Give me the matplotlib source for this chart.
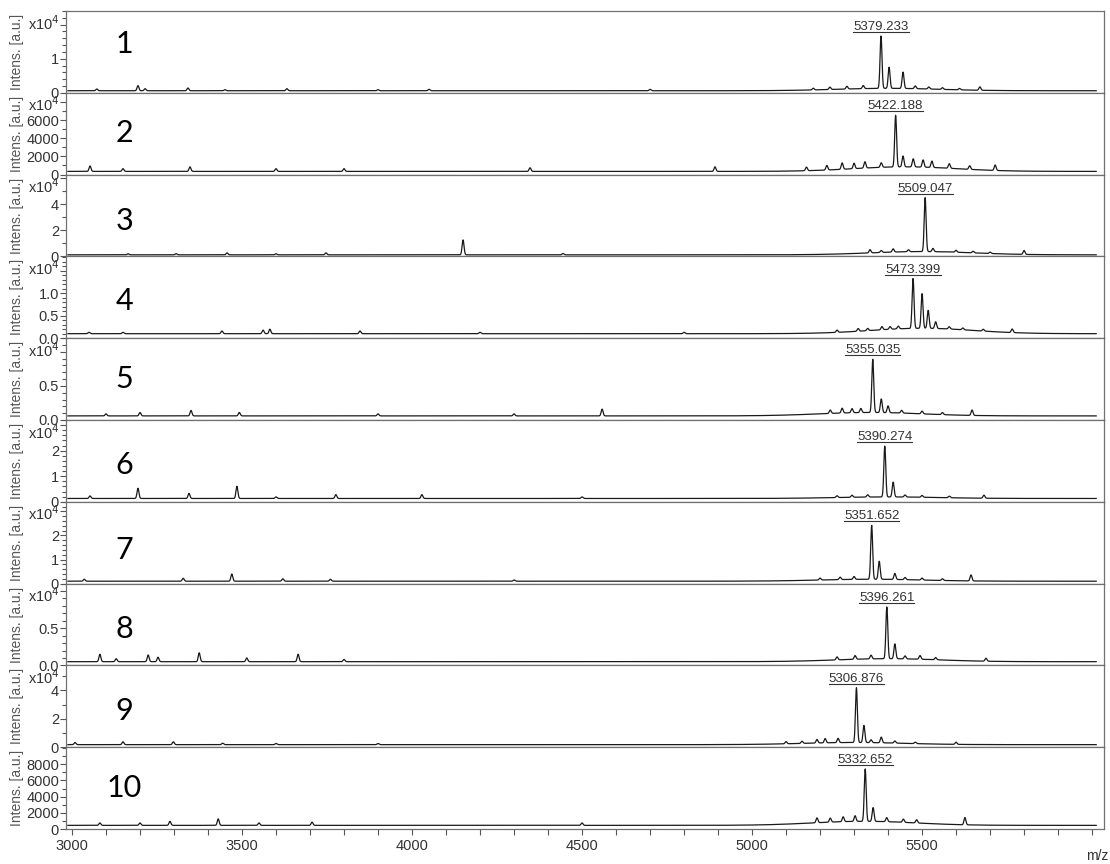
import numpy as np
import matplotlib
matplotlib.use('Agg')
import matplotlib.pyplot as plt
from matplotlib.lines import Line2D
from matplotlib.ticker import FixedLocator, MultipleLocator

plt.rcParams['font.family'] = ['Liberation Sans', 'DejaVu Sans']

# peak lists: m/z positions and intensities above baseline
p1_mz = [5379.2, 5403, 5444, 5670, 3073, 3194, 3215, 3341, 3632, 5229, 5279, 5327,
         5480, 5520, 4050, 4700, 5180, 5560, 5610, 3900, 3450]
p1_int = [15400, 6200, 4800, 1000, 500, 1500, 600, 800, 600, 700, 800, 900,
          800, 600, 400, 400, 500, 500, 400, 300, 300]
p2_mz = [5422.2, 5265, 5332, 5444, 5474, 5503, 5529, 5715, 3053, 3347, 4347, 4891,
         3600, 5160, 5220, 5300, 5380, 5580, 5640, 3150, 3800]
p2_int = [5700, 700, 700, 1200, 900, 800, 700, 600, 600, 500, 400, 500,
          300, 400, 500, 600, 500, 500, 400, 300, 300]
p3_mz = [5509.0, 4150, 5347, 5415, 5532, 5800, 5600, 3747, 4444, 3165, 3306, 3456,
         3600, 5380, 5460, 5650, 5700]
p3_int = [41500, 11500, 2500, 2500, 2500, 3000, 1500, 1500, 1000, 800, 900, 1500,
          800, 1500, 1500, 1200, 1000]
p4_mz = [5473.4, 5500, 5518, 5540, 3441, 3562, 3582, 3847, 5312, 5382, 5406, 5765,
         3150, 4200, 4800, 5250, 5340, 5430, 5580, 5620, 5680, 3050]
p4_int = [11200, 7700, 4000, 1500, 600, 800, 1000, 600, 600, 700, 600, 800,
          300, 300, 300, 500, 500, 600, 500, 400, 400, 300]
p5_mz = [5355.0, 5380, 5400, 4559, 3200, 3350, 3492, 5265, 5294, 5647, 3900, 4300,
         5230, 5320, 5440, 5500, 5560, 3100]
p5_int = [7800, 2000, 1000, 1000, 500, 800, 500, 700, 600, 800, 300, 300,
          500, 600, 400, 400, 300, 300]
p6_mz = [5390.3, 5415, 3194, 3344, 3485, 3053, 3776, 4029, 5682, 5294, 4500,
         5250, 5340, 5450, 5500, 5580, 3600]
p6_int = [20000, 5800, 4000, 2000, 4800, 1000, 1500, 1500, 1200, 800, 600,
          700, 900, 800, 700, 600, 600]
p7_mz = [5351.7, 5374, 5420, 5644, 3470, 3036, 3327, 3620, 5259, 3760, 4300,
         5200, 5300, 5450, 5500, 5560]
p7_int = [22500, 7500, 2500, 2500, 3000, 800, 1200, 1000, 1000, 800, 500,
          800, 1200, 900, 800, 700]
p8_mz = [5396.3, 5420, 3082, 3224, 3253, 3374, 3665, 3514, 5303, 5494, 5688,
         5250, 5350, 5450, 5540, 3130, 3800]
p8_int = [7000, 2000, 1000, 900, 600, 1200, 1000, 500, 500, 500, 400,
          400, 500, 400, 300, 400, 300]
p9_mz = [5306.9, 5329, 5380, 5215, 5253, 5191, 5147, 5600, 3009, 3150, 3298, 3443,
         3900, 5350, 5420, 5480, 5100, 3600]
p9_int = [38500, 12000, 4000, 3000, 3000, 2500, 1500, 1500, 1500, 2000, 2000, 1000,
          800, 2000, 1500, 1000, 1500, 800]
p10_mz = [5332.7, 5356, 5626, 3288, 3430, 3082, 3706, 5191, 5268, 4500,
          5303, 5396, 5445, 5484, 5230, 3200, 3550]
p10_int = [6500, 1700, 900, 500, 800, 300, 400, 600, 600, 300,
           700, 500, 400, 400, 500, 300, 300]

baselines = [600, 350, 1200, 1000, 600, 1300, 1000, 500, 1800, 450]
hump_centers = [5400, 5450, 5500, 5500, 5350, 5400, 5350, 5400, 5300, 5330]
hump_heights = [700, 500, 2500, 1200, 500, 600, 800, 400, 1500, 500]

peak_labels = ['5379.233', '5422.188', '5509.047', '5473.399', '5355.035',
               '5390.274', '5351.652', '5396.261', '5306.876', '5332.652']
panel_names = ['1', '2', '3', '4', '5', '6', '7', '8', '9', '10']

all_mz = [p1_mz, p2_mz, p3_mz, p4_mz, p5_mz, p6_mz, p7_mz, p8_mz, p9_mz, p10_mz]
all_int = [p1_int, p2_int, p3_int, p4_int, p5_int, p6_int, p7_int, p8_int, p9_int, p10_int]

# axis settings per panel
y_max = [2.4e4, 9000, 6.3e4, 1.82e4, 1.2e4, 3.2e4, 3.4e4, 1.1e4, 5.75e4, 10100]
y_major = [1e4, 2000, 2e4, 0.5e4, 0.5e4, 1e4, 1e4, 0.5e4, 2e4, 2000]
y_minor = [0.2e4, 1000, 1e4, 0.1e4, 0.1e4, 0.2e4, 0.2e4, 0.1e4, 1e4, 1000]
y_labels = [['0', '1', ''], ['0', '2000', '4000', '6000', ''], ['0', '2', '4', ''],
            ['0.0', '0.5', '1.0', ''], ['0.0', '0.5', ''], ['0', '1', '2', ''],
            ['0', '1', '2', ''], ['0.0', '0.5', ''], ['0', '2', '4'],
            ['0', '2000', '4000', '6000', '8000']]
num_y = [0.6, 0.51, 0.43, 0.45, 0.5, 0.45, 0.41, 0.44, 0.44, 0.5]

gray = '#555555'
line_col = '#1a1a1a'

mz = np.arange(2988, 6013, 1.0)

fig, axes = plt.subplots(10, 1, figsize=(11.1, 8.64), dpi=100, sharex=True)
fig.subplots_adjust(left=0.0595, right=0.9946, top=0.9873, bottom=0.0405, hspace=0)

texts = []
for i, ax in enumerate(axes):
    spec = np.full_like(mz, baselines[i])
    spec += hump_heights[i] * np.exp(-0.5 * ((mz - hump_centers[i]) / 150.0) ** 2)
    for c, h in zip(all_mz[i], all_int[i]):
        spec += h * np.exp(-0.5 * ((mz - c) / 2.8) ** 2)
    ax.plot(mz, spec, color=line_col, lw=0.9)

    ax.set_xlim(2982.4, 6035)
    ax.set_ylim(0, y_max[i])
    ticks = list(np.arange(0, y_max[i], y_major[i]))[:len(y_labels[i])]
    ax.yaxis.set_major_locator(FixedLocator(ticks))
    ax.set_yticklabels(y_labels[i])
    ax.yaxis.set_minor_locator(MultipleLocator(y_minor[i]))
    ax.tick_params(axis='y', which='both', direction='out', colors=gray,
                   labelsize=10.5, labelcolor='#333333', pad=1)
    ax.tick_params(axis='y', which='major', length=4, width=0.8)
    ax.tick_params(axis='y', which='minor', length=3, width=0.8)
    for s in ax.spines.values():
        s.set_color('#707070')
        s.set_linewidth(0.9)

    ax.set_ylabel('Intens. [a.u.]', fontsize=10, color=gray)
    ax.yaxis.set_label_coords(-0.0405, 0.5)

    if y_labels[i][-1] == '' or i == 8:
        ax.annotate('x10$^4$', xy=(0, 1), xycoords='axes fraction', xytext=(-6, -3),
                    textcoords='offset pixels', ha='right', va='top',
                    fontsize=10.5, color='#333333')

    ax.text(3153, y_max[i] * num_y[i], panel_names[i], fontsize=22,
            family=['Lato', 'DejaVu Sans'], ha='center', va='center', color='black')

    top = int(np.argmax(spec))
    t = ax.annotate(peak_labels[i], xy=(mz[top], spec[top]), xytext=(0, 3),
                    textcoords='offset pixels', ha='center', va='bottom',
                    fontsize=9.5, color='#333333')
    texts.append(t)

    if i < 9:
        ax.tick_params(axis='x', which='both', bottom=False, labelbottom=False)

ax = axes[-1]
ax.xaxis.set_major_locator(FixedLocator([3000, 3500, 4000, 4500, 5000, 5500, 6000]))
ax.set_xticklabels(['3000', '3500', '4000', '4500', '5000', '5500', ''])
ax.xaxis.set_minor_locator(MultipleLocator(100))
ax.tick_params(axis='x', which='both', direction='out', colors=gray, labelsize=10.5,
               labelcolor='#333333', length=4, width=0.8, pad=3)
fig.text(1097 / 1110, 1 - 856 / 864, 'm/z', fontsize=10, color='#333333', ha='center', va='center')

# underline the peak labels
fig.canvas.draw()
for t in texts:
    bb = t.get_window_extent()
    y = bb.y0 + 1
    fig.add_artist(Line2D([bb.x0, bb.x1], [y, y], transform=None, color='#333333', lw=0.8))

fig.savefig('out.png', dpi=100)
